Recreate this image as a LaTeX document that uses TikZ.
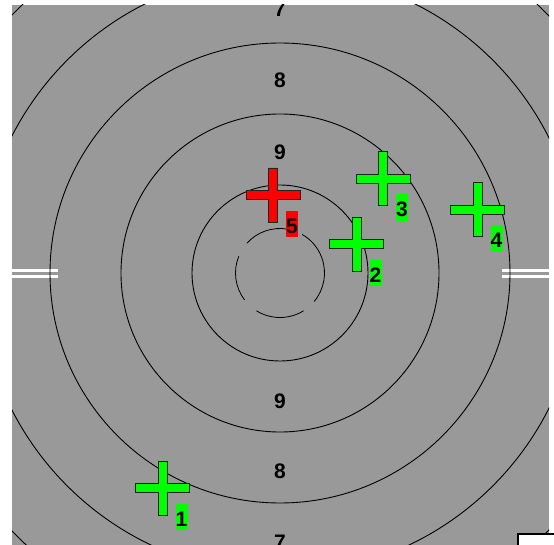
\documentclass[tikz,border=0pt]{standalone}
\usepackage{fontspec}
\setmainfont{Liberation Sans}
\usetikzlibrary{calc}
\definecolor{target-gray}{RGB}{153,153,153}
\definecolor{hit-green}{RGB}{0,255,0}
\definecolor{miss-red}{RGB}{255,0,0}
\definecolor{mark-edge}{RGB}{35,35,35}

\begin{document}
\begin{tikzpicture}[
  x=1pt, y=-1pt,
  every node/.style = {font=\bfseries\fontsize{21}{21}\selectfont},
  % Target styles
  ringline/.style  = {black, line width=0.9pt},
  tenline/.style   = {black, line width=0.8pt},
  ringnum/.style   = {inner sep=0pt, text=black},
  sightbar/.style  = {fill=white, draw=none},
  % Shot styles
  crossmark/.style = {draw=mark-edge, line width=0.8pt},
  hitlabel/.style  = {inner sep=0pt, minimum width=12pt,
                      text height=22.7pt, text depth=4pt},
  shotcross/.pic   = {
    \path[crossmark, pic actions]
      (-4.5,-27) -- (4.5,-27) -- (4.5,-4.5) -- (27,-4.5) -- (27,4.5)
      -- (4.5,4.5) -- (4.5,27) -- (-4.5,27) -- (-4.5,4.5) -- (-27,4.5)
      -- (-27,-4.5) -- (-4.5,-4.5) -- cycle;
  },
]
\useasboundingbox (0,0) rectangle (554,545);

% ── Target ─────────────────────────────────────────────────────────────────────

\coordinate (centre) at (280,273);

\begin{scope}
  \clip (12,5) rectangle (549,545);
  \fill[target-gray] (12,5) rectangle (549,545);

  % sight bars left and right
  \fill[sightbar] (0,269.3) rectangle (58,272.4);
  \fill[sightbar] (0,274.8) rectangle (58,278.5);
  \fill[sightbar] (502,269.3) rectangle (554,272.4);
  \fill[sightbar] (502,274.8) rectangle (554,278.5);

  % rings 9 .. 5
  \draw[ringline] (centre) circle[radius=88];
  \draw[ringline] (centre) circle[radius=159];
  \draw[ringline] (centre) circle[radius=230];
  \draw[ringline] (centre) circle[radius=301];
  \draw[ringline] (centre) circle[radius=372];

  % inner ten (broken ring)
  \draw[tenline] ($(centre)+(-80:44.5)$) arc[start angle=-80, end angle=-138, radius=44.5];
  \draw[tenline] ($(centre)+(-158:44.5)$) arc[start angle=-158, end angle=-217, radius=44.5];
  \draw[tenline] ($(centre)+(-238:44.5)$) arc[start angle=-238, end angle=-302, radius=44.5];
  \draw[tenline] ($(centre)+(-320:44.5)$) arc[start angle=-320, end angle=-420, radius=44.5];

  % ring numbers
  \node[ringnum] (n9top) at (280,152)   {9};
  \node[ringnum] (n9bot) at (280,401)   {9};
  \node[ringnum] (n8top) at (280,80)    {8};
  \node[ringnum] (n8bot) at (280,471)   {8};
  \node[ringnum] (n7top) at (280,9.5)   {7};
  \node[ringnum] (n7bot) at (280,542.5) {7};
\end{scope}

% corner frame
\draw[black, line width=2pt, fill=white] (518,534) rectangle (560,552);

% ── Shots ──────────────────────────────────────────────────────────────────────

\coordinate (shot1) at (162.5,488);
\coordinate (shot2) at (356.5,244);
\coordinate (shot3) at (383,178.5);
\coordinate (shot4) at (477.5,209.5);
\coordinate (shot5) at (273,195);

\pic[fill=hit-green] at (shot1) {shotcross};
\pic[fill=hit-green] at (shot2) {shotcross};
\pic[fill=hit-green] at (shot3) {shotcross};
\pic[fill=hit-green] at (shot4) {shotcross};
\pic[fill=miss-red]  at (shot5) {shotcross};

\node[hitlabel, fill=hit-green] (lab1) at ([shift={(19,29)}]shot1) {1};
\node[hitlabel, fill=hit-green] (lab2) at ([shift={(19,29)}]shot2) {2};
\node[hitlabel, fill=hit-green] (lab3) at ([shift={(19,29)}]shot3) {3};
\node[hitlabel, fill=hit-green] (lab4) at ([shift={(19,29)}]shot4) {4};
\node[hitlabel, fill=miss-red]  (lab5) at ([shift={(19,29)}]shot5) {5};

\end{tikzpicture}
\end{document}
